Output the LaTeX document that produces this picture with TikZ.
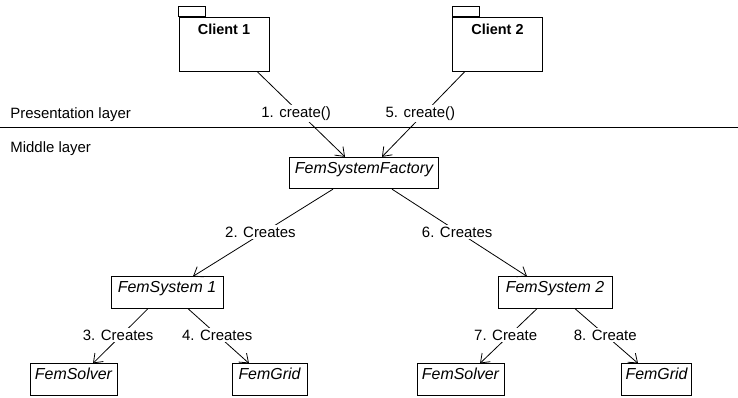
\documentclass[tikz,border=0pt]{standalone}
\usepackage{fontspec}
\setmainfont{Liberation Sans}
\usetikzlibrary{arrows.meta,calc}
\begin{document}
\begin{tikzpicture}[x=1bp,y=-1bp, line width=0.8bp,
  font=\fontsize{15}{18}\selectfont,
  box/.style={draw, inner sep=0pt, minimum width=#1, minimum height=31.5bp,
    font=\fontsize{16}{19}\selectfont\itshape, text height=11bp, text depth=11bp},
  pkg/.style={draw, inner sep=0pt, minimum width=90bp, minimum height=54bp},
  pkgname/.style={font=\fontsize{14.5}{17}\selectfont\bfseries, anchor=base, inner sep=0pt},
  layer/.style={anchor=base west, inner sep=0pt},
  lab/.style={fill=white, inner sep=1.5bp},
  arr/.style={-{Straight Barb[length=8bp,width=12bp]}}]
\useasboundingbox (0,0) rectangle (738,397);

% packages
\node[pkg] (c1) at (224,44) {};
\draw (c1.north west) rectangle ++(27,-10);
\node[pkgname] (c1t) at ($(c1.north)+(0,18)$) {Client 1};
\node[pkg] (c2) at (497.5,44) {};
\draw (c2.north west) rectangle ++(27,-10);
\node[pkgname] (c2t) at ($(c2.north)+(0,18)$) {Client 2};

% layer separator
\coordinate (l0) at (0,127);
\coordinate (l1) at (738,127);
\draw (l0) -- (l1);
\node[layer] (pl) at (10,118.5) {Presentation layer};
\node[layer] (ml) at (10,152) {Middle layer};

% classes
\node[box=149bp] (fac) at (364,173) {FemSystemFactory};
\node[box=112bp] (fs1) at (167,292.5) {FemSystem 1};
\node[box=114bp] (fs2) at (555,292.5) {FemSystem 2};
\node[box=87bp] (sol1) at (73.5,379.5) {FemSolver};
\node[box=75bp] (grid1) at (269.5,379.5) {FemGrid};
\node[box=87bp] (sol2) at (460.5,379.5) {FemSolver};
\node[box=70bp] (grid2) at (656.5,379.5) {FemGrid};

% connectors
\draw[arr] ($(c1.south)+(33,0)$) -- node[lab, pos=0.49, xshift=-4bp] {1. create()} ($(fac.north)+(-19,0)$);
\draw[arr] ($(c2.south)+(-32.5,0)$) -- node[lab, pos=0.49, xshift=-4bp] {5. create()} ($(fac.north)+(18,0)$);
\draw[arr] ($(fac.south)+(-31,0)$) -- node[lab, pos=0.49, xshift=-4bp] {2. Creates} ($(fs1.north)+(26,0)$);
\draw[arr] ($(fac.south)+(28,0)$) -- node[lab, pos=0.49, xshift=-1bp] {6. Creates} ($(fs2.north)+(-28,0)$);
\draw[arr] ($(fs1.south)+(-19,0)$) -- node[lab, pos=0.48, xshift=-3.5bp] {3. Creates} ($(sol1.north)+(19.5,0)$);
\draw[arr] ($(fs1.south)+(21,0)$) -- node[lab, pos=0.48] {4. Creates} ($(grid1.north)+(-20.5,0)$);
\draw[arr] ($(fs2.south)+(-18,0)$) -- node[lab, pos=0.48, xshift=-4bp] {7. Create} ($(sol2.north)+(19.5,0)$);
\draw[arr] ($(fs2.south)+(20,0)$) -- node[lab, pos=0.48] {8. Create} ($(grid2.north)+(-18.5,0)$);
\end{tikzpicture}
\end{document}
